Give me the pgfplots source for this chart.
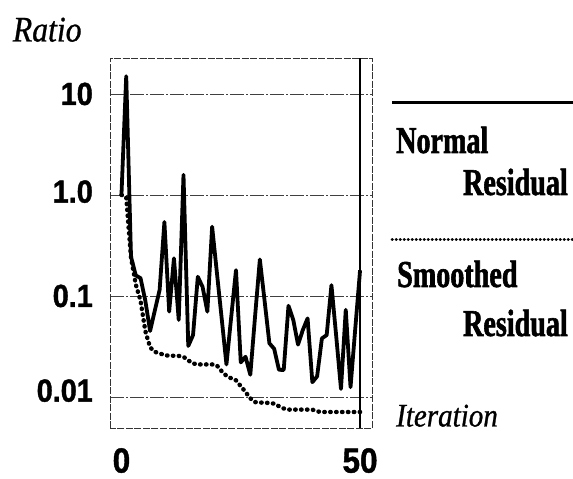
\documentclass[border=0pt]{standalone}
\usepackage{fontspec}
\usepackage{pgfplots}
\usepackage{pgfplotstable}
\pgfplotsset{compat=1.18}
\setmainfont{Liberation Serif}
\newfontfamily\tickfont[FakeStretch=0.9,FakeBold=1.2]{Liberation Sans}
\newfontfamily\legfont[FakeStretch=0.74,FakeBold=1.5]{Liberation Serif}
\newfontfamily\labfont[FakeStretch=0.88,FakeBold=0.8]{Liberation Serif}

% normal residual ratio per iteration
\pgfplotstableread{
it ratio
0 1.0
1 15
2 0.245
3 0.16
4 0.15
5 0.09
6 0.045
7 0.072
8 0.115
9 0.54
10 0.07
11 0.236
12 0.058
13 1.58
14 0.032
15 0.041
16 0.155
17 0.123
18 0.07
19 0.485
20 0.17
21 0.06
22 0.021
23 0.062
24 0.18
25 0.022
26 0.025
27 0.0166
28 0.063
29 0.23
30 0.089
31 0.034
32 0.030
33 0.0186
34 0.0185
35 0.08
36 0.058
37 0.033
38 0.046
39 0.06
40 0.014
41 0.016
42 0.038
43 0.041
44 0.128
45 0.04
46 0.012
47 0.073
48 0.0125
49 0.048
50 0.18
}\normaltab

% smoothed residual ratio
\pgfplotstableread{
it ratio
0 1.0
1 0.95
2 0.24
3 0.13
4 0.09
5 0.045
6 0.031
7 0.028
8 0.027
9 0.026
10 0.0256
11 0.0256
12 0.0255
13 0.025
14 0.023
15 0.0215
16 0.021
17 0.021
18 0.021
19 0.021
20 0.0205
21 0.018
22 0.0162
23 0.0153
24 0.0146
25 0.0128
26 0.0112
27 0.0097
28 0.0089
29 0.0088
30 0.0088
31 0.0087
32 0.0086
33 0.0081
34 0.0077
35 0.0075
36 0.0075
37 0.0075
38 0.0075
39 0.0075
40 0.0075
41 0.0072
42 0.0071
43 0.0071
44 0.0071
45 0.0071
46 0.0071
47 0.0071
48 0.0071
49 0.0071
50 0.0071
}\smoothtab

\begin{document}
\begin{tikzpicture}
\path[use as bounding box] (0,0) rectangle (573pt,479pt);

\begin{axis}[
at={(110pt,51pt)}, anchor=south west,
scale only axis,
width=262pt, height=370pt,
ymode=log,
xmin=-2.4, xmax=52.5,
ymin=0.00493, ymax=22.7,
xtick={0,50}, xticklabels={0,50},
ytick={0.01,0.1,1,10},
yticklabels={\raisebox{13pt}{0.01},0.1,\raisebox{7pt}{1.0},10},
major tick length=0pt, minor tick length=0pt,
tick style={draw=none},
yticklabel style={anchor=east, inner sep=0pt, xshift=-17pt,
  font=\tickfont\bfseries\fontsize{32}{32}\selectfont},
xticklabel style={anchor=north, inner sep=0pt, yshift=-20pt,
  font=\tickfont\bfseries\fontsize{35}{35}\selectfont},
ymajorgrids,
y grid style={black!75, line width=0.9pt, dash pattern=on 14pt off 2pt on 2pt off 2pt},
extra x ticks={50}, extra x tick labels={},
extra x tick style={grid=major, grid style={black, line width=1.3pt}},
axis line style={black!80, line width=0.8pt, dash pattern=on 7pt off 1.5pt},
]
\addplot[black, line width=3.8pt, line join=round] table[x=it, y=ratio] {\normaltab};
\addplot[black, line width=4.4pt, line cap=round, dash pattern=on 0.5pt off 5.4pt] table[x=it, y=ratio] {\smoothtab};
\end{axis}

% labels and legend
\node[anchor=base west, inner sep=0pt, font=\labfont\itshape\fontsize{36}{36}\selectfont] at (12.7pt,437.5pt) {Ratio};
\node[anchor=base west, inner sep=0pt, font=\labfont\itshape\fontsize{33}{33}\selectfont] at (396pt,52.5pt) {Iteration};

\draw[black, line width=2.8pt] (392pt,376.3pt) -- (573pt,376.3pt);
\node[anchor=base west, inner sep=0pt, font=\legfont\bfseries\fontsize{38}{38}\selectfont] at (396pt,326pt) {Normal};
\node[anchor=base east, inner sep=0pt, font=\legfont\bfseries\fontsize{38}{38}\selectfont] at (568pt,284pt) {Residual};

\draw[black, line width=3pt, line cap=round, dash pattern=on 0.4pt off 3.6pt] (392pt,239pt) -- (573pt,239pt);
\node[anchor=base west, inner sep=0pt, font=\legfont\bfseries\fontsize{38}{38}\selectfont] at (397pt,192pt) {Smoothed};
\node[anchor=base east, inner sep=0pt, font=\legfont\bfseries\fontsize{38}{38}\selectfont] at (568pt,143pt) {Residual};
\end{tikzpicture}
\end{document}
